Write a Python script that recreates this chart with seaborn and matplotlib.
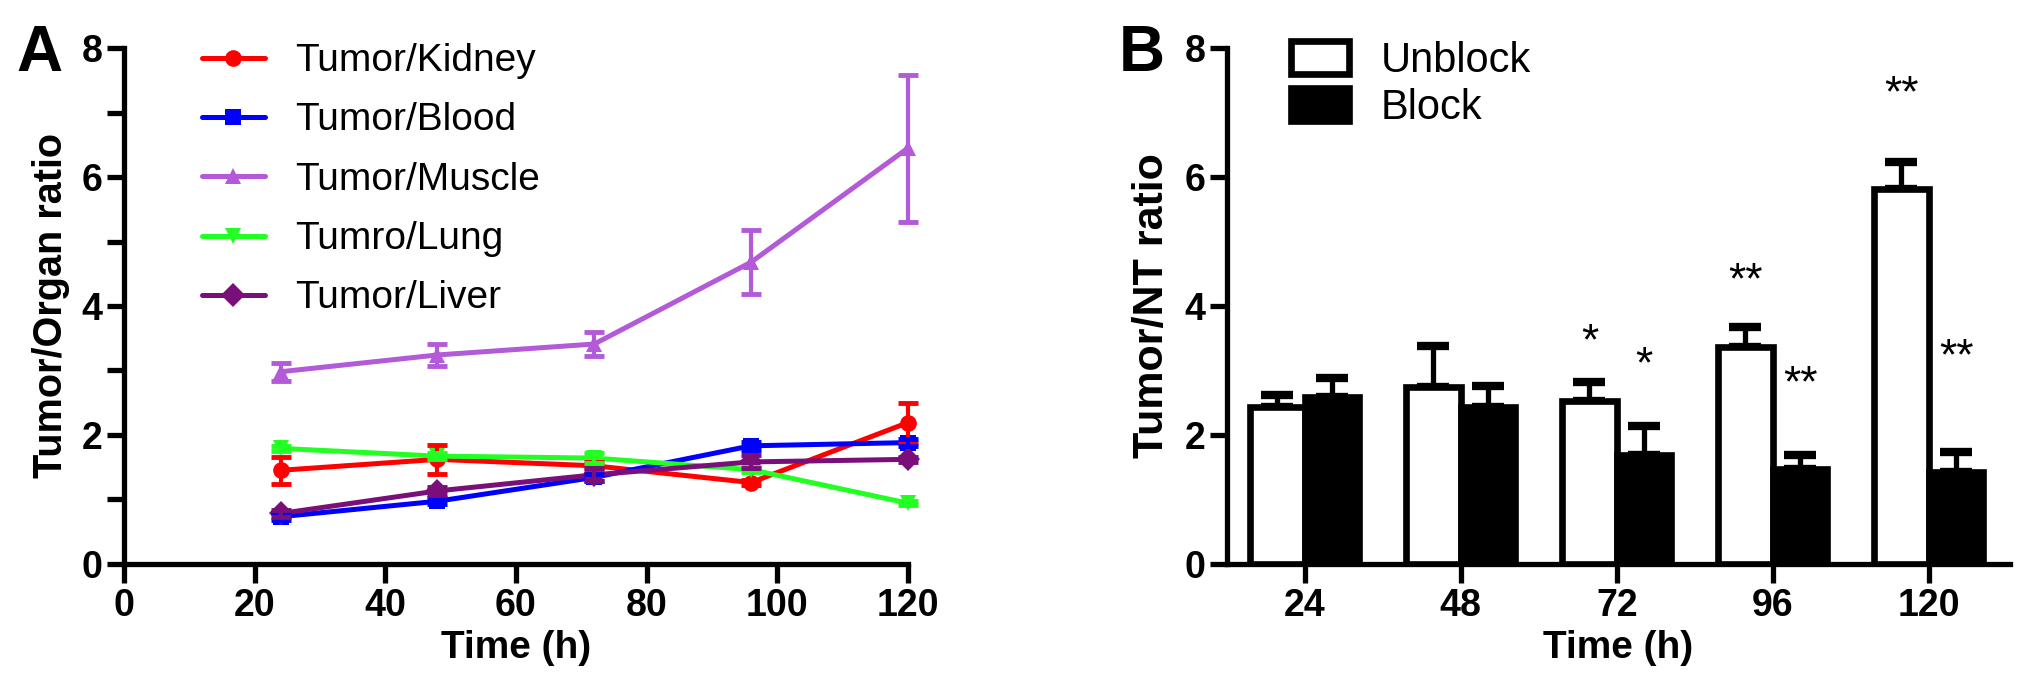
import numpy as np
import pandas as pd
import seaborn as sns
import matplotlib
matplotlib.use("Agg")
import matplotlib.pyplot as plt

# panel A: tumor/organ ratios over time
times = [24, 48, 72, 96, 120]
kidney = [1.45, 1.62, 1.52, 1.26, 2.19]
kidney_err = [0.21, 0.23, 0.06, 0.04, 0.31]
blood = [0.73, 0.97, 1.34, 1.83, 1.88]
blood_err = [0.05, 0.05, 0.06, 0.06, 0.05]
muscle = [2.98, 3.24, 3.41, 4.68, 6.45]
muscle_err = [0.14, 0.17, 0.18, 0.50, 1.14]
lung = [1.79, 1.67, 1.64, 1.46, 0.94]
lung_err = [0.04, 0.05, 0.08, 0.04, 0.03]
liver = [0.78, 1.13, 1.38, 1.58, 1.62]
liver_err = [0.05, 0.06, 0.10, 0.10, 0.04]
series_names = ["Tumor/Kidney", "Tumor/Blood", "Tumor/Muscle", "Tumro/Lung", "Tumor/Liver"]

# panel B: tumor/NT ratio, unblock vs block
time_labels = ["24", "48", "72", "96", "120"]
unblock = [2.43, 2.74, 2.52, 3.36, 5.81]
unblock_err = [0.19, 0.64, 0.30, 0.31, 0.42]
block = [2.58, 2.43, 1.68, 1.47, 1.43]
block_err = [0.31, 0.33, 0.45, 0.22, 0.31]
unblock_stars = ["", "", "*", "**", "**"]
unblock_star_y = [np.nan, np.nan, 3.43, 4.37, 7.27]
block_stars = ["", "", "*", "**", "**"]
block_star_y = [np.nan, np.nan, 3.07, 2.77, 3.20]

sns.set_style("ticks")
plt.rcParams["font.family"] = ["Liberation Sans", "DejaVu Sans"]
plt.rcParams.update({
    "text.color": "black", "axes.labelcolor": "black", "axes.edgecolor": "black",
    "xtick.color": "black", "ytick.color": "black",
    "axes.linewidth": 3.8,
    "xtick.major.width": 3.8, "ytick.major.width": 3.8, "ytick.minor.width": 3.8,
    "xtick.major.size": 14, "ytick.major.size": 12, "ytick.minor.size": 12,
})

colors = {"Tumor/Kidney": "#ff0000", "Tumor/Blood": "#0000ff", "Tumor/Muscle": "#b35ad9",
          "Tumro/Lung": "#22ff22", "Tumor/Liver": "#7a0f7a"}
markers = {"Tumor/Kidney": "o", "Tumor/Blood": "s", "Tumor/Muscle": "^",
           "Tumro/Lung": "v", "Tumor/Liver": "D"}

vals = [kidney, blood, muscle, lung, liver]
errs = [kidney_err, blood_err, muscle_err, lung_err, liver_err]
dfA = pd.DataFrame({
    "time": times * 5,
    "ratio": sum(vals, []),
    "err": sum(errs, []),
    "series": [n for n in series_names for _ in times],
})

fig = plt.figure(figsize=(20.31, 6.8), dpi=100)
axA = fig.add_axes([0.061, 0.171, 0.386, 0.758])
axB = fig.add_axes([0.604, 0.171, 0.3856, 0.758])

sns.lineplot(data=dfA, x="time", y="ratio", hue="series", style="series",
             palette=colors, markers=markers, dashes=False, linewidth=3.6,
             markersize=12, markeredgewidth=0, ax=axA, clip_on=False, zorder=3)
for name in series_names:
    d = dfA[dfA["series"] == name]
    axA.errorbar(d["time"], d["ratio"], yerr=d["err"], fmt="none", ecolor=colors[name],
                 elinewidth=3, capsize=7, capthick=3.5, clip_on=False, zorder=3)

axA.set_xlim(0, 120)
axA.set_ylim(0, 8)
axA.set_xticks([0, 20, 40, 60, 80, 100, 120])
axA.set_yticks([0, 2, 4, 6, 8])
axA.set_yticks([1, 3, 5, 7], minor=True)
axA.set_xlabel("Time (h)", fontsize=28, fontweight="bold", labelpad=4)
axA.set_ylabel("Tumor/Organ ratio", fontsize=28.5, fontweight="bold", labelpad=8)
for lab in axA.get_xticklabels() + axA.get_yticklabels():
    lab.set_fontweight("bold")
    lab.set_fontsize(27)
sns.despine(ax=axA)
axA.legend(loc="upper left", bbox_to_anchor=(0.1, 1.01), frameon=False, fontsize=28,
           handlelength=1.6, handletextpad=0.8, labelspacing=0.6, borderpad=0, borderaxespad=0)
fig.text(0.008, 0.965, "A", fontsize=46, fontweight="bold", va="top")

# panel B bars
dfB = pd.DataFrame({
    "time": time_labels * 2,
    "ratio": unblock + block,
    "group": ["Unblock"] * 5 + ["Block"] * 5,
})
sns.barplot(data=dfB, x="time", y="ratio", hue="group", order=time_labels,
            hue_order=["Unblock", "Block"], palette={"Unblock": "white", "Block": "black"},
            edgecolor="black", linewidth=4.8, width=0.7, errorbar=None, ax=axB, zorder=3)
for cont, e, stars, sy in zip(axB.containers, [unblock_err, block_err],
                              [unblock_stars, block_stars], [unblock_star_y, block_star_y]):
    xs = [p.get_x() + p.get_width() / 2 for p in cont.patches]
    hs = [p.get_height() for p in cont.patches]
    axB.errorbar(xs, hs, yerr=[np.zeros(len(e)), e], fmt="none", ecolor="black",
                 elinewidth=3.8, capsize=11.5, capthick=6, zorder=2)
    for x, s, y in zip(xs, stars, sy):
        if s:
            axB.text(x, y, s, ha="center", va="center", fontsize=32)

axB.set_xlim(-0.5, 4.52)
axB.set_ylim(0, 8)
axB.set_yticks([0, 2, 4, 6, 8])
axB.set_xlabel("Time (h)", fontsize=28, fontweight="bold", labelpad=4)
axB.set_ylabel("Tumor/NT ratio", fontsize=31, fontweight="bold", labelpad=9)
for lab in axB.get_xticklabels() + axB.get_yticklabels():
    lab.set_fontweight("bold")
    lab.set_fontsize(27)
sns.despine(ax=axB)
axB.legend(loc="upper left", bbox_to_anchor=(0.082, 1.015), frameon=False, fontsize=30,
           handlelength=1.4, handleheight=0.85, handletextpad=0.75, labelspacing=0.18,
           borderpad=0, borderaxespad=0)
fig.text(0.551, 0.965, "B", fontsize=46, fontweight="bold", va="top")

fig.savefig("out.png", dpi=100)
